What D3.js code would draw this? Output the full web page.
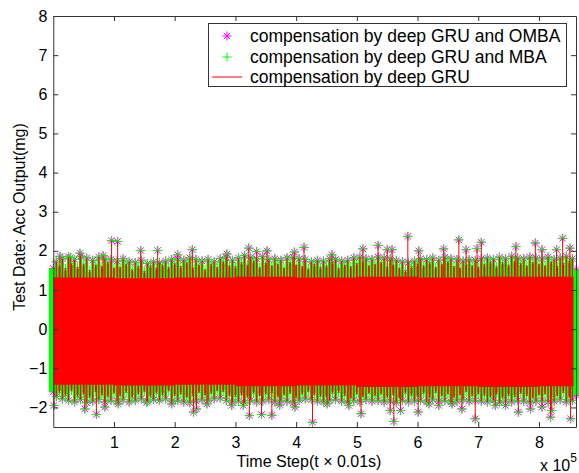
<!DOCTYPE html>
<html>
<head>
<meta charset="utf-8">
<script src="https://cdn.jsdelivr.net/npm/d3@7"></script>
<style>
body { margin: 0; background: #fff; }
svg { display: block; font-family: "Liberation Sans", Arial, sans-serif; }
</style>
</head>
<body>
<div id="chart"></div>
<script>
'use strict';
// time in units of 1e5 steps, output in mg
var xTicks = [1, 2, 3, 4, 5, 6, 7, 8];
var yTicks = [-2, -1, 0, 1, 2, 3, 4, 5, 6, 7, 8];
var seriesNames = ['compensation by deep GRU and OMBA', 'compensation by deep GRU and MBA', 'compensation by deep GRU'];

// solid part of the red band
var coreTime = [0, 1, 2, 3, 4, 5, 6, 7, 8, 8.57];
var coreUpper = [1.32, 1.30, 1.32, 1.34, 1.32, 1.34, 1.32, 1.34, 1.34, 1.32];
var coreLower = [-1.42, -1.44, -1.42, -1.46, -1.44, -1.48, -1.46, -1.48, -1.46, -1.44];

// fringe samples (every 0.1e5 steps starting at 0.05e5)
var fringeStart = 0.05, fringeStep = 0.1;
var fringeUpper = [1.72, 1.80, 1.85, 1.78, 1.86, 1.82, 1.76, 1.84, 1.80, 1.78,
    1.74, 1.80, 1.72, 1.70, 1.76, 1.68, 1.72, 1.70, 1.74, 1.78,
    1.80, 1.76, 1.82, 1.78, 1.74, 1.78, 1.72, 1.80, 1.84, 1.76,
    1.82, 1.88, 1.84, 1.80, 1.86, 1.78, 1.80, 1.76, 1.82, 1.84,
    1.80, 1.78, 1.72, 1.76, 1.74, 1.80, 1.78, 1.74, 1.76, 1.82,
    1.84, 1.80, 1.78, 1.84, 1.82, 1.80, 1.76, 1.72, 1.70, 1.74,
    1.80, 1.78, 1.82, 1.76, 1.84, 1.80, 1.78, 1.74, 1.78, 1.76,
    1.80, 1.82, 1.78, 1.84, 1.80, 1.86, 1.82, 1.80, 1.84, 1.82,
    1.80, 1.84, 1.78, 1.82, 1.86, 1.80];
var fringeLower = [-1.72, -1.78, -1.82, -1.86, -1.80, -1.88, -1.84, -1.80, -1.86, -1.82,
    -1.84, -1.80, -1.86, -1.82, -1.78, -1.84, -1.80, -1.82, -1.78, -1.84,
    -1.82, -1.86, -1.88, -1.84, -1.80, -1.82, -1.78, -1.76, -1.82, -1.86,
    -1.84, -1.88, -1.82, -1.86, -1.84, -1.80, -1.86, -1.82, -1.84, -1.88,
    -1.82, -1.78, -1.80, -1.84, -1.86, -1.82, -1.80, -1.84, -1.88, -1.82,
    -1.86, -1.80, -1.84, -1.82, -1.86, -1.84, -1.88, -1.82, -1.86, -1.84,
    -1.82, -1.86, -1.80, -1.84, -1.82, -1.86, -1.84, -1.80, -1.84, -1.82,
    -1.84, -1.86, -1.82, -1.88, -1.84, -1.86, -1.82, -1.84, -1.88, -1.84,
    -1.82, -1.86, -1.84, -1.80, -1.86, -1.82];
// red line tips between the fringe samples
var redStart = 0.1;
var redUpper = [1.62, 1.55, 1.68, 1.58, 1.66, 1.50, 1.64, 1.60, 1.70, 1.56,
    1.58, 1.66, 1.52, 1.60, 1.48, 1.62, 1.56, 1.64, 1.58, 1.68,
    1.60, 1.70, 1.56, 1.64, 1.52, 1.66, 1.58, 1.72, 1.62, 1.60,
    1.70, 1.64, 1.74, 1.58, 1.68, 1.62, 1.66, 1.56, 1.70, 1.64,
    1.60, 1.54, 1.66, 1.58, 1.62, 1.70, 1.56, 1.64, 1.60, 1.68,
    1.72, 1.62, 1.66, 1.70, 1.58, 1.64, 1.56, 1.50, 1.60, 1.66,
    1.62, 1.70, 1.58, 1.66, 1.72, 1.60, 1.56, 1.64, 1.62, 1.58,
    1.66, 1.72, 1.60, 1.70, 1.64, 1.74, 1.68, 1.62, 1.70, 1.66,
    1.62, 1.72, 1.60, 1.68, 1.74];
var redLower = [-1.62, -1.70, -1.58, -1.72, -1.66, -1.74, -1.60, -1.68, -1.72, -1.64,
    -1.70, -1.62, -1.74, -1.66, -1.60, -1.72, -1.64, -1.68, -1.58, -1.70,
    -1.66, -1.74, -1.70, -1.62, -1.68, -1.64, -1.58, -1.60, -1.70, -1.72,
    -1.68, -1.74, -1.64, -1.70, -1.66, -1.62, -1.72, -1.68, -1.64, -1.74,
    -1.66, -1.60, -1.68, -1.72, -1.74, -1.64, -1.62, -1.70, -1.76, -1.66,
    -1.72, -1.64, -1.70, -1.66, -1.74, -1.68, -1.76, -1.64, -1.70, -1.72,
    -1.64, -1.72, -1.62, -1.70, -1.66, -1.74, -1.68, -1.60, -1.70, -1.66,
    -1.70, -1.74, -1.66, -1.76, -1.70, -1.72, -1.64, -1.70, -1.76, -1.68,
    -1.66, -1.72, -1.70, -1.62, -1.74];

// isolated spikes
var peakTime = [0.11, 0.28, 0.44, 0.82, 0.96, 1.06, 1.44, 1.72, 2.05, 2.29, 2.86, 3.22, 3.35, 3.52, 3.97, 4.13, 4.59,
    5.10, 5.35, 5.50, 5.58, 5.84, 6.02, 6.43, 6.68, 6.80, 6.98, 7.05, 7.62, 7.94, 8.05, 8.29, 8.39, 8.51];
var peakValue = [1.86, 1.83, 1.94, 1.88, 2.26, 2.24, 2.01, 2.01, 1.90, 2.03, 1.92, 2.07, 1.98, 2.00, 1.97, 2.09, 1.90,
    2.05, 2.14, 2.03, 2.03, 2.37, 2.00, 2.05, 2.28, 2.03, 2.06, 2.22, 2.11, 2.20, 2.03, 2.03, 2.32, 2.07];
var dipTime = [0.01, 0.52, 0.71, 0.85, 1.07, 1.54, 1.95, 2.31, 2.36, 2.53, 2.94, 3.13, 3.23, 3.43, 3.60, 3.73, 3.98,
    4.27, 4.51, 4.87, 5.07, 5.55, 5.61, 5.72, 6.01, 6.19, 6.35, 6.57, 6.73, 6.95, 7.28, 7.45, 7.66, 7.86, 8.05,
    8.19, 8.21, 8.52];
var dipValue = [-1.95, -2.04, -2.18, -1.99, -1.91, -1.87, -1.91, -2.12, -2.04, -1.91, -1.95, -1.95, -2.21, -2.18, -2.20, -1.94, -1.99,
    -2.38, -1.91, -1.95, -2.16, -2.08, -2.36, -2.08, -2.12, -1.91, -1.95, -1.91, -2.04, -2.29, -1.95, -1.95, -2.12, -2.04, -1.99,
    -2.25, -2.08, -2.29];

// stacked markers at the first and last sample
var edgeTime = [0, 8.61];
var edgeUpper = [1.55, 1.52];
var edgeLower = [-1.60, -1.69];

var width = 579, height = 473;
var x = d3.scaleLinear().domain([0, 8.61]).range([53.3, 576]);
var y = d3.scaleLinear().domain([-2.5, 8]).range([427, 16]);

var svg = d3.select('#chart').append('svg')
    .attr('width', width)
    .attr('height', height);

svg.append('defs').append('clipPath').attr('id', 'plot-clip')
    .append('rect')
    .attr('x', x(0)).attr('y', y(8))
    .attr('width', x(8.61) - x(0)).attr('height', y(-2.5) - y(8));

var starPath = 'M-4.5,0H4.5M0,-4.5V4.5M-3.2,-3.2L3.2,3.2M-3.2,3.2L3.2,-3.2';
var plusPath = 'M-4.5,0H4.5M0,-4.5V4.5';
var MAGENTA = '#ff00ff', GREEN = '#00ff00', RED = '#ff0000';

var fringe = fringeUpper.map(function (v, i) {
    return {t: fringeStart + i * fringeStep, hi: v, lo: fringeLower[i]};
});
var reds = redUpper.map(function (v, i) {
    return {t: redStart + i * fringeStep, hi: v, lo: redLower[i]};
});
var peaks = peakTime.map(function (t, i) { return {t: t, v: peakValue[i]}; });
var dips = dipTime.map(function (t, i) { return {t: t, v: dipValue[i]}; });
var edgePoints = [], tipPoints = [];
fringe.forEach(function (d) {
    edgePoints.push({t: d.t, v: d.hi});
    edgePoints.push({t: d.t, v: d.lo});
});
reds.forEach(function (d) {
    tipPoints.push({t: d.t, v: d.hi});
    tipPoints.push({t: d.t, v: d.lo});
});
var starPoints = edgePoints.concat(peaks, dips);
var plusPoints = starPoints.concat(tipPoints);

function coreAt(t, arr) {
    var i = d3.bisectRight(coreTime, t) - 1;
    i = Math.max(0, Math.min(i, arr.length - 1));
    return arr[i];
}
function place(d) { return 'translate(' + x(d.t) + ',' + y(d.v) + ')'; }

// magenta stars (OMBA) drawn first
var gStar = svg.append('g').attr('class', 'omba');
gStar.selectAll('path').data(starPoints).enter().append('path')
    .attr('d', starPath)
    .attr('transform', place)
    .attr('stroke', MAGENTA).attr('stroke-width', 1).attr('fill', 'none');
edgeTime.forEach(function (t, i) {
    [edgeUpper[i], edgeLower[i]].forEach(function (v) {
        gStar.append('path').attr('d', starPath)
            .attr('transform', place({t: t, v: v}))
            .attr('stroke', MAGENTA).attr('fill', 'none');
    });
});

// green + markers (MBA), stacked markers read as vertical green strokes
var gPlus = svg.append('g').attr('class', 'mba');
gPlus.selectAll(null).data(fringe.concat(reds)).enter().append('line')
    .attr('x1', function (d) { return x(d.t); }).attr('x2', function (d) { return x(d.t); })
    .attr('y1', function (d) { return y(d.lo + 0.04); })
    .attr('y2', function (d) { return y(d.hi - 0.04); })
    .attr('stroke', GREEN).attr('stroke-width', 3.2);
gPlus.selectAll('path.mk').data(plusPoints).enter().append('path')
    .attr('class', 'mk')
    .attr('d', plusPath)
    .attr('transform', place)
    .attr('stroke', GREEN).attr('stroke-width', 1).attr('fill', 'none');
gPlus.selectAll('rect').data(edgeTime).enter().append('rect')
    .attr('x', function (t) { return x(t) - 4.5; })
    .attr('width', 9)
    .attr('y', function (t, i) { return y(edgeUpper[i]); })
    .attr('height', function (t, i) { return y(edgeLower[i]) - y(edgeUpper[i]); })
    .attr('fill', GREEN);

// red line (GRU) on top
var gLine = svg.append('g').attr('class', 'gru').attr('clip-path', 'url(#plot-clip)');
var coreArea = d3.area()
    .x(function (d) { return x(d); })
    .y0(function (d) { return y(coreAt(d, coreLower)); })
    .y1(function (d) { return y(coreAt(d, coreUpper)); })
    .curve(d3.curveStepAfter);
gLine.append('path').datum(coreTime).attr('d', coreArea).attr('fill', RED);

function spikes(data, hi, lo, w) {
    gLine.selectAll(null).data(data).enter().append('line')
        .attr('x1', function (d) { return x(d.t); })
        .attr('x2', function (d) { return x(d.t); })
        .attr('y1', function (d) { return y(lo(d)); })
        .attr('y2', function (d) { return y(hi(d)); })
        .attr('stroke', RED).attr('stroke-width', w);
}
spikes(fringe, function (d) { return d.hi; }, function (d) { return d.lo; }, 1.2);
spikes(reds, function (d) { return d.hi; }, function (d) { return d.lo; }, 1.6);
spikes(peaks, function (d) { return d.v; }, function (d) { return coreAt(d.t, coreUpper); }, 1);
spikes(dips, function (d) { return d.v; }, function (d) { return coreAt(d.t, coreLower); }, 1);

// axes
var AXIS = '#333';
var TICK_FONT = '16px';
var xAxis = svg.append('g').attr('transform', 'translate(0,' + y(-2.5) + ')')
    .call(d3.axisBottom(x).tickValues(xTicks).tickSizeInner(-5).tickSizeOuter(0).tickPadding(10));
var xTop = svg.append('g').attr('transform', 'translate(0,' + y(8) + ')')
    .call(d3.axisTop(x).tickValues(xTicks).tickSizeInner(-5).tickSizeOuter(0).tickFormat(''));
var yAxis = svg.append('g').attr('transform', 'translate(' + x(0) + ',0)')
    .call(d3.axisLeft(y).tickValues(yTicks).tickSizeInner(-5).tickSizeOuter(0).tickPadding(6));
var yRight = svg.append('g').attr('transform', 'translate(' + x(8.61) + ',0)')
    .call(d3.axisRight(y).tickValues(yTicks).tickSizeInner(-5).tickSizeOuter(0).tickFormat(''));
[xAxis, xTop, yAxis, yRight].forEach(function (g) {
    g.select('.domain').attr('stroke', AXIS);
    g.selectAll('.tick line').attr('stroke', AXIS);
    g.selectAll('.tick text').attr('fill', '#000').style('font-size', TICK_FONT)
        .style('font-family', '"Liberation Sans", Arial, sans-serif');
});

svg.append('text')
    .attr('x', 309).attr('y', 467)
    .attr('text-anchor', 'middle').style('font-size', '16px')
    .text('Time Step(t \u00d7 0.01s)');
var expo = svg.append('text').attr('x', 540).attr('y', 471).style('font-size', '16px');
expo.append('tspan').text('x 10');
expo.append('tspan').attr('dy', -9).style('font-size', '12px').text('5');
svg.append('text')
    .attr('transform', 'translate(25,' + 217 + ') rotate(-90)')
    .attr('text-anchor', 'middle').style('font-size', '16px')
    .text('Test Date: Acc Output(mg)');

// legend
var legend = svg.append('g').attr('class', 'legend');
legend.append('rect')
    .attr('x', 208.5).attr('y', 23.5).attr('width', 358).attr('height', 63)
    .attr('fill', '#fff').attr('stroke', AXIS).attr('stroke-width', 1);
var rowY = [36, 57, 77];
var iconX = 227;
legend.append('path').attr('d', starPath).attr('transform', 'translate(' + iconX + ',' + rowY[0] + ')')
    .attr('stroke', MAGENTA).attr('fill', 'none');
legend.append('path').attr('d', plusPath).attr('transform', 'translate(' + iconX + ',' + rowY[1] + ')')
    .attr('stroke', GREEN).attr('fill', 'none');
legend.append('line').attr('x1', iconX - 15).attr('x2', iconX + 15)
    .attr('y1', rowY[2]).attr('y2', rowY[2]).attr('stroke', RED);
legend.selectAll('text').data(seriesNames).enter().append('text')
    .attr('x', 250).attr('y', function (d, i) { return rowY[i]; })
    .attr('dy', '0.35em').style('font-size', '17.5px')
    .text(function (d) { return d; });
</script>
</body>
</html>
